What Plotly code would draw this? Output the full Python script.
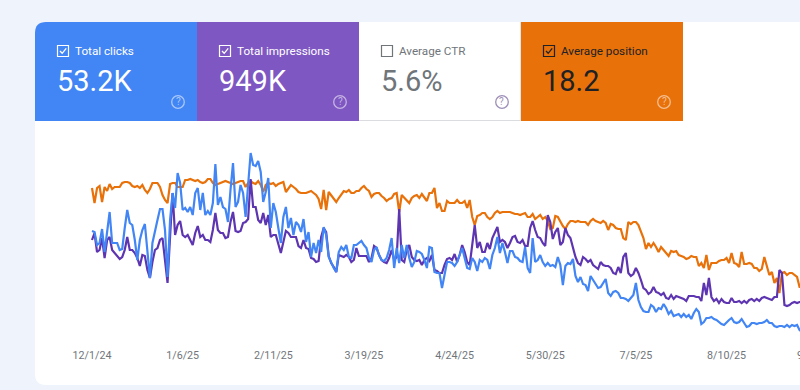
import pandas as pd
import plotly.graph_objects as go

W, H = 800, 390
start_date = "2024-12-01"

position = [162,147,162,164,148,163,159,166,161,163,163,163,167,168,168,167,164,163,164,162,165,160,157,161,167,167,167,163,155,150,147,166,167,167,163,163,163,170,170,171,170,
 169,170,168,167,168,171,171,167,165,166,167,168,169,168,167,166,167,168,169,169,163,167,
 169,167,166,169,165,158,165,167,166,167,164,166,167,168,158,162,165,163,161,158,157,157,
 157,158,159,157,155,151,141,160,140,158,155,152,148,152,156,159,158,160,157,157,159,159,162,164,161,159,153,156,157,157,154,152,149,151,152,156,157,138,155,152,149,147,
 152,154,155,152,156,152,149,157,157,162,142,147,139,139,149,147,147,147,150,147,147,149,142,150,133,125,134,135,137,137,133,131,133,137,139,137,138,138,138,138,137,136,
 136,135,136,137,133,133,136,131,133,135,131,133,129,121,122,134,133,128,124,121,126,129,129,128,129,128,128,128,125,129,131,129,128,127,129,127,120,126,125,122,121,
 121,112,110,128,126,128,128,125,118,112,101,107,103,107,103,98,103,100,97,94,99,98,99,95,94,93,91,92,94,93,93,84,87,82,95,80,
 87,87,87,89,90,90,92,87,97,87,86,83,98,86,86,87,86,82,82,79,81,93,83,75,78,67,72,57,77,78,75,77,77,75,73,63,63]

impressions = [110,117,98,100,112,92,110,113,100,97,94,91,93,100,113,100,100,97,92,84,95,94,80,72,88,100,102,110,112,90,67,113,157,115,125,129,115,113,115,110,105,117,
 124,113,115,110,110,108,120,137,120,117,117,112,113,128,138,119,118,119,127,128,131,171,143,143,130,127,137,125,135,113,115,115,107,97,108,119,117,113,113,113,104,102,110,
 102,101,92,91,88,89,113,122,118,94,87,83,78,95,94,93,95,93,88,90,102,94,94,94,94,88,92,104,102,95,90,88,87,92,100,90,93,141,90,88,100,105,
 93,90,89,90,85,90,92,89,95,80,79,77,77,85,91,92,90,96,88,95,105,98,88,85,103,125,102,108,98,98,107,101,112,118,123,108,110,108,102,107,113,114,
 108,107,110,104,104,122,129,120,113,112,107,104,135,128,111,118,122,105,108,122,115,112,102,93,87,85,93,91,88,90,85,83,81,88,85,84,84,82,77,76,83,
 77,93,97,77,74,76,82,77,70,62,60,56,58,63,58,57,55,57,52,51,55,51,54,53,52,51,49,54,54,54,53,53,49,67,55,72,
 53,49,51,47,51,48,47,47,52,48,48,49,47,49,47,50,51,49,51,49,52,53,52,51,50,53,53,80,77,45,44,45,47,48,47,48,48]

clicks = [119,118,105,107,121,98,118,138,107,107,107,100,101,122,140,127,125,110,90,110,120,126,96,72,107,120,130,141,141,120,73,130,157,142,177,167,140,142,138,143,135,157,
 162,140,157,135,139,135,147,186,145,153,143,141,128,160,187,143,148,165,157,133,168,197,185,184,189,178,148,158,172,122,147,138,122,107,133,143,122,132,115,128,125,118,131,
 108,118,93,107,97,110,98,123,115,93,87,82,78,98,103,100,105,93,92,105,105,107,109,105,102,92,88,100,103,95,90,89,92,100,112,82,102,87,105,92,105,92,
 83,88,99,98,96,90,82,103,102,78,77,77,62,75,88,88,87,84,88,95,102,92,82,81,92,88,79,90,88,92,90,81,95,102,113,97,107,98,87,99,99,93,
 92,89,88,103,82,77,112,88,90,95,88,84,87,84,85,83,93,85,65,84,87,86,91,74,68,73,66,65,59,74,70,65,62,63,67,71,57,54,58,59,57,
 52,52,51,49,52,55,67,50,43,39,38,38,45,43,38,42,41,46,42,36,39,34,35,36,33,36,33,35,31,37,41,38,26,28,32,32,
 33,31,30,28,26,25,28,30,32,28,27,28,31,27,23,24,27,27,26,27,27,28,30,27,27,24,23,24,24,23,25,23,25,24,25,20,18]

tick_dates = ["2024-12-01", "2025-01-06", "2025-02-11", "2025-03-19", "2025-04-24", "2025-05-30", "2025-07-05", "2025-08-10"]
tick_labels = ["12/1/24", "1/6/25", "2/11/25", "3/19/25", "4/24/25", "5/30/25", "7/5/25", "8/10/25"]
last_tick_label = "9/15/25"

tile_labels = ["Total clicks", "Total impressions", "Average CTR", "Average position"]
tile_values = ["53.2K", "949K", "5.6%", "18.2"]
tile_checked = [True, True, False, True]
tile_fills = ["#4285F4", "#7E57C2", "#FFFFFF", "#E8710A"]
tile_ink = ["#FFFFFF", "#FFFFFF", "#70757A", "#202124"]
tile_help = ["rgba(255,255,255,0.55)", "rgba(255,255,255,0.55)", "#9E8FB8", "rgba(255,255,255,0.55)"]

FONT = "Roboto"
PX_PER_DAY = 2.518
X0 = 92.0


def px(x):
    return x / W


def py(y):
    return 1 - y / H


def rect(x0, y0, x1, y1, **kw):
    return dict(type="rect", xref="paper", yref="paper", x0=px(x0), x1=px(x1), y0=py(y0), y1=py(y1), **kw)


def path(points):
    d = "M " + " L ".join(f"{px(a):.5f},{py(b):.5f}" for a, b in points)
    return dict(type="path", xref="paper", yref="paper", path=d)


shapes = []
annotations = []

# page card with rounded left corners
r = 11
card = (f"M {px(35):.5f},{py(22 + r):.5f} Q {px(35):.5f},{py(22):.5f} {px(35 + r):.5f},{py(22):.5f} "
        f"L {px(800):.5f},{py(22):.5f} L {px(800):.5f},{py(385):.5f} L {px(35 + r):.5f},{py(385):.5f} "
        f"Q {px(35):.5f},{py(385):.5f} {px(35):.5f},{py(385 - r):.5f} Z")
shapes.append(dict(type="path", xref="paper", yref="paper", path=card, fillcolor="#FFFFFF", line_width=0, layer="below"))

TILE_W = 162
for i, label in enumerate(tile_labels):
    x = 35 + i * TILE_W
    if i == 0:
        d = (f"M {px(x):.5f},{py(121):.5f} L {px(x):.5f},{py(22 + r):.5f} Q {px(x):.5f},{py(22):.5f} {px(x + r):.5f},{py(22):.5f} "
             f"L {px(x + TILE_W):.5f},{py(22):.5f} L {px(x + TILE_W):.5f},{py(121):.5f} Z")
        shapes.append(dict(type="path", xref="paper", yref="paper", path=d, fillcolor=tile_fills[i], line_width=0, layer="below"))
    else:
        shapes.append(rect(x, 22, x + TILE_W, 121, fillcolor=tile_fills[i], line_width=0, layer="below"))
    ink = tile_ink[i]
    # checkbox
    cb = x + 22
    shapes.append(rect(cb + .5, 45.5, cb + 11.5, 56.5, line=dict(color=ink, width=1.2), fillcolor="rgba(0,0,0,0)"))
    if tile_checked[i]:
        s = path([(cb + 3, 51), (cb + 5.2, 53.3), (cb + 9.2, 48.3)])
        s["line"] = dict(color=ink, width=1.3)
        shapes.append(s)
    annotations.append(dict(text=label, x=px(x + 38.5), y=py(51), xref="paper", yref="paper", xanchor="left", yanchor="middle",
                            showarrow=False, font=dict(family=FONT, size=11.7, color=ink), xshift=-1))
    annotations.append(dict(text=tile_values[i], x=px(x + 21), y=py(81), xref="paper", yref="paper", xanchor="left", yanchor="middle",
                            showarrow=False, font=dict(family=FONT, size=29, color=ink), xshift=-1))
    # help icon
    cx = x + 143
    shapes.append(dict(type="circle", xref="paper", yref="paper", x0=px(cx - 6.3), x1=px(cx + 6.3), y0=py(102 + 6.3), y1=py(102 - 6.3),
                       line=dict(color=tile_help[i], width=1.3), fillcolor="rgba(0,0,0,0)"))
    annotations.append(dict(text="?", x=px(cx), y=py(102), xref="paper", yref="paper", xanchor="center", yanchor="middle",
                            showarrow=False, font=dict(family=FONT, size=10, color=tile_help[i])))

shapes.append(rect(359, 120, 521, 121, fillcolor="#DADCE0", line_width=0))
shapes.append(rect(520, 22, 521, 121, fillcolor="#E4E6EA", line_width=0))

annotations.append(dict(text=last_tick_label, x=(X0 - 1 + 288 * PX_PER_DAY) / W, y=py(355), xref="paper", yref="paper",
                        xanchor="center", yanchor="middle", showarrow=False, font=dict(family=FONT, size=10.7, color="#70757A")))

fig = go.Figure()
dates = pd.date_range(start_date, periods=len(position), freq="D")
for name, values, color in [("Average position", position, "#E8710A"),
                            ("Total impressions", impressions, "#5E35B1"),
                            ("Total clicks", clicks, "#4285F4")]:
    fig.add_trace(go.Scatter(x=dates[:len(values)], y=values, mode="lines", name=name,
                             line=dict(color=color, width=2.2), hoverinfo="skip"))

x_min = pd.Timestamp(start_date) - pd.Timedelta(days=X0 / PX_PER_DAY)
x_max = pd.Timestamp(start_date) + pd.Timedelta(days=(W - X0) / PX_PER_DAY)

fig.update_layout(
    width=W, height=H, margin=dict(l=0, r=0, t=0, b=0), autosize=False,
    paper_bgcolor="#EFF3FB", plot_bgcolor="rgba(0,0,0,0)", showlegend=False,
    shapes=shapes, annotations=annotations,
    font=dict(family=FONT),
    xaxis=dict(range=[x_min, x_max], domain=[0, 1], type="date", tickvals=tick_dates, ticktext=tick_labels,
               showgrid=False, zeroline=False, showline=False, ticks="", anchor="free", position=(H - 347) / H,
               tickangle=0, tickfont=dict(family=FONT, size=10.7, color="#70757A"), automargin=False),
    yaxis=dict(range=[-40, 350], domain=[0, 1], visible=False, fixedrange=True),
)
fig.write_html("out.html", config={"displayModeBar": False},
               post_script="document.body.style.margin='0';document.body.style.overflow='hidden';")
